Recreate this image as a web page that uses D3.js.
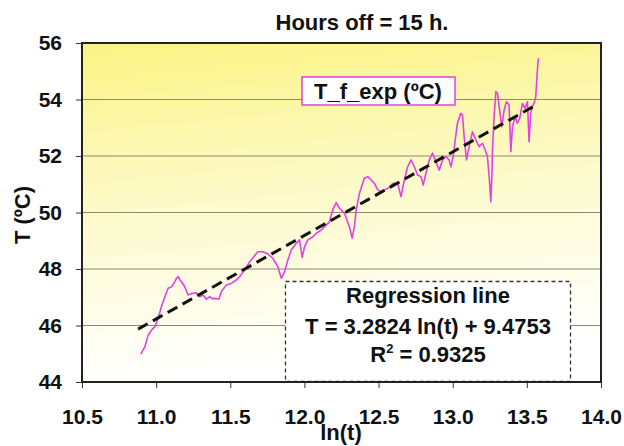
<!DOCTYPE html>
<html>
<head>
<meta charset="utf-8">
<script src="https://cdn.jsdelivr.net/npm/d3@7"></script>
<style>
	body { margin: 0; background: #fff; }
	svg { display: block; font-family: 'Liberation Sans', Arial, sans-serif; font-weight: bold; }
</style>
</head>
<body>
<div id="vis"></div>
<script>
// DATA
let lnT = [
	10.897, 10.924, 10.946, 10.969, 10.991, 11.013, 11.036, 11.059, 11.081, 11.104,
	11.126, 11.137, 11.148, 11.160, 11.171, 11.193, 11.215, 11.232, 11.249, 11.272,
	11.294, 11.316, 11.339, 11.361, 11.378, 11.395, 11.424, 11.440, 11.474, 11.507,
	11.541, 11.563, 11.597, 11.631, 11.653, 11.686, 11.720, 11.754, 11.787, 11.821,
	11.844, 11.866, 11.888, 11.911, 11.945, 11.967, 11.985, 12.001, 12.023, 12.057,
	12.079, 12.113, 12.135, 12.169, 12.191, 12.214, 12.236, 12.270, 12.303, 12.322,
	12.337, 12.349, 12.371, 12.404, 12.427, 12.450, 12.472, 12.494, 12.517, 12.539,
	12.573, 12.595, 12.629, 12.651, 12.674, 12.696, 12.719, 12.741, 12.763, 12.786,
	12.801, 12.819, 12.842, 12.864, 12.887, 12.909, 12.932, 12.954, 12.976, 12.988,
	13.003, 13.017, 13.032, 13.055, 13.066, 13.077, 13.093, 13.111, 13.133, 13.156,
	13.178, 13.201, 13.219, 13.234, 13.246, 13.257, 13.264, 13.268, 13.279, 13.291,
	13.302, 13.313, 13.331, 13.347, 13.362, 13.380, 13.392, 13.403, 13.421, 13.436,
	13.452, 13.470, 13.488, 13.504, 13.515, 13.526, 13.537, 13.548, 13.560, 13.571,
	13.578
];
let tExp = [
	44.99, 45.25, 45.66, 45.84, 45.96, 46.25, 46.67, 47.02, 47.32, 47.37,
	47.55, 47.67, 47.73, 47.62, 47.55, 47.37, 47.08, 47.12, 47.14, 47.16,
	47.02, 47.08, 46.93, 47.02, 46.95, 46.96, 46.94, 47.20, 47.43, 47.49,
	47.61, 47.73, 47.96, 48.26, 48.40, 48.61, 48.61, 48.53, 48.38, 48.08,
	47.67, 47.90, 48.32, 48.67, 48.91, 49.03, 48.41, 48.79, 49.03, 49.14,
	49.26, 49.38, 49.50, 49.67, 50.09, 50.35, 50.15, 49.97, 49.50, 49.09,
	49.50, 50.09, 50.68, 51.21, 51.27, 51.15, 51.03, 50.80, 50.74, 50.80,
	50.89, 51.03, 51.03, 50.56, 51.15, 51.62, 51.86, 51.62, 51.33, 51.27,
	50.97, 51.39, 51.86, 52.10, 51.80, 51.50, 51.86, 51.98, 51.86, 51.62,
	51.98, 52.57, 53.16, 53.51, 53.45, 52.68, 51.86, 52.33, 52.86, 52.57,
	52.33, 52.45, 52.21, 51.98, 51.27, 50.38, 51.27, 52.21, 53.39, 54.28,
	54.22, 53.75, 53.04, 53.63, 53.92, 53.81, 52.15, 53.04, 53.39, 53.16,
	53.33, 53.86, 53.69, 53.92, 52.51, 53.51, 53.75, 53.86, 54.10, 55.04,
	55.46
];
// regression line as drawn (end points)
let regX = [10.878, 13.543];
let regY = [45.87, 53.75];

let xTicks = [10.5, 11.0, 11.5, 12.0, 12.5, 13.0, 13.5, 14.0];
let yTicks = [44, 46, 48, 50, 52, 54, 56];

let chartTitle = 'Hours off = 15 h.';
let seriesName = 'T_f_exp (\u00baC)';
let regLines = ['Regression line', 'T = 3.2824 ln(t) + 9.4753'];
let r2Value = '0.9325';

// PARAMETERS
let width = 624,
	height = 446,
	plot = { left: 82, right: 601, top: 43, bottom: 382 };

// SCALES
let x = d3.scaleLinear().domain([10.5, 14]).range([plot.left, plot.right]),
	y = d3.scaleLinear().domain([44, 56]).range([plot.bottom, plot.top]);

let svg = d3.select('#vis')
	.append('svg')
	.attr('width', width)
	.attr('height', height);

// BACKGROUND GRADIENT
let grad = svg.append('defs')
	.append('linearGradient')
	.attr('id', 'bg')
	.attr('x1', 0).attr('y1', 0)
	.attr('x2', 0.15).attr('y2', 1);
grad.append('stop').attr('offset', '0%').attr('stop-color', '#faf383');
grad.append('stop').attr('offset', '50%').attr('stop-color', '#fdfacb');
grad.append('stop').attr('offset', '100%').attr('stop-color', '#ffffff');

svg.append('rect')
	.attr('x', plot.left)
	.attr('y', plot.top)
	.attr('width', plot.right - plot.left)
	.attr('height', plot.bottom - plot.top)
	.attr('fill', 'url(#bg)');

// GRIDLINES
svg.append('g')
	.selectAll('line')
	.data(yTicks.slice(1, -1))
	.enter()
	.append('line')
	.attr('x1', plot.left)
	.attr('x2', plot.right)
	.attr('y1', d => y(d))
	.attr('y2', d => y(d))
	.attr('stroke', '#8c8a72')
	.attr('stroke-width', 1);

// AXES
let xAxis = d3.axisBottom(x).tickValues(xTicks).tickSize(6).tickPadding(21).tickFormat(d3.format('.1f')),
	yAxis = d3.axisLeft(y).tickValues(yTicks).tickSize(6).tickPadding(14).tickFormat(d3.format('d'));

let gx = svg.append('g')
	.attr('transform', `translate(0, ${plot.bottom})`)
	.call(xAxis);
let gy = svg.append('g')
	.attr('transform', `translate(${plot.left}, 0)`)
	.call(yAxis);

[gx, gy].forEach(g => {
	g.select('.domain').remove();
	g.selectAll('.tick line').attr('stroke', '#333').attr('stroke-width', 1);
	g.selectAll('.tick text')
		.attr('fill', '#111')
		.style('font-size', '21px')
		.style('font-family', "'Liberation Sans', Arial, sans-serif")
		.style('font-weight', 'bold');
});

// REGRESSION BOX
let box = svg.append('g');
box.append('rect')
	.attr('x', 285.5)
	.attr('y', 281.5)
	.attr('width', 285)
	.attr('height', 100)
	.attr('fill', '#fff')
	.attr('stroke', '#333')
	.attr('stroke-width', 1.3)
	.attr('stroke-dasharray', '4,3');

// FRAME
svg.append('rect')
	.attr('x', plot.left)
	.attr('y', plot.top)
	.attr('width', plot.right - plot.left)
	.attr('height', plot.bottom - plot.top)
	.attr('fill', 'none')
	.attr('stroke', '#222')
	.attr('stroke-width', 2);

// PLOT
let pts = lnT.map((v, i) => [v, tExp[i]]);
let line = d3.line().x(d => x(d[0])).y(d => y(d[1]));

svg.append('path')
	.datum(pts)
	.attr('d', line)
	.attr('fill', 'none')
	.attr('stroke', '#e540e5')
	.attr('stroke-width', 1.6)
	.attr('stroke-linejoin', 'round');

svg.append('path')
	.datum(regX.map((v, i) => [v, regY[i]]))
	.attr('d', line)
	.attr('fill', 'none')
	.attr('stroke', '#111')
	.attr('stroke-width', 3)
	.attr('stroke-dasharray', '11,6');

// REGRESSION TEXT
let bx = 428;
box.append('text')
	.attr('x', bx).attr('y', 303)
	.attr('text-anchor', 'middle')
	.attr('font-size', 22)
	.attr('fill', '#111')
	.text(regLines[0]);
box.append('text')
	.attr('x', bx).attr('y', 334)
	.attr('text-anchor', 'middle')
	.attr('font-size', 22)
	.attr('fill', '#111')
	.text(regLines[1]);
let r2 = box.append('text')
	.attr('x', bx).attr('y', 362)
	.attr('text-anchor', 'middle')
	.attr('font-size', 22)
	.attr('fill', '#111');
r2.append('tspan').text('R');
r2.append('tspan').attr('dy', -9).attr('font-size', 13).text('2');
r2.append('tspan').attr('dy', 9).text(' = ' + r2Value);

// LEGEND
svg.append('rect')
	.attr('x', 302)
	.attr('y', 77)
	.attr('width', 153)
	.attr('height', 28)
	.attr('fill', '#fff')
	.attr('stroke', '#e040e0')
	.attr('stroke-width', 1.5);
svg.append('text')
	.attr('x', 378).attr('y', 99)
	.attr('text-anchor', 'middle')
	.attr('font-size', 22)
	.attr('fill', '#111')
	.text(seriesName);

// TITLES
svg.append('text')
	.attr('x', 362).attr('y', 30)
	.attr('text-anchor', 'middle')
	.attr('font-size', 22)
	.attr('fill', '#111')
	.text(chartTitle);

svg.append('text')
	.attr('x', 341).attr('y', 440)
	.attr('text-anchor', 'middle')
	.attr('font-size', 22)
	.attr('fill', '#111')
	.text('ln(t)');

svg.append('text')
	.attr('transform', 'translate(30, 215) rotate(-90)')
	.attr('text-anchor', 'middle')
	.attr('font-size', 22)
	.attr('fill', '#111')
	.text('T (\u00baC)');
</script>
</body>
</html>
